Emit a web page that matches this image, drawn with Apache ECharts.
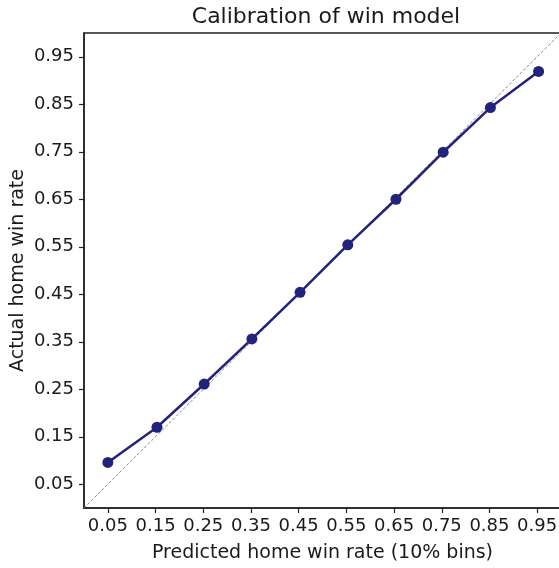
<!DOCTYPE html>
<html><head><meta charset="utf-8">
<script src="https://cdn.jsdelivr.net/npm/echarts@6/dist/echarts.min.js"></script>
<style>html,body{margin:0;padding:0;background:#fff}#c{width:559px;height:568px}</style>
</head><body><div id="c"></div>
<script>
const predicted = [0.05, 0.153, 0.252, 0.352, 0.453, 0.553, 0.654, 0.753, 0.852, 0.953];
const actual = [0.096, 0.170, 0.261, 0.356, 0.454, 0.554, 0.650, 0.749, 0.843, 0.919];
const tickValues = [0.05, 0.15, 0.25, 0.35, 0.45, 0.55, 0.65, 0.75, 0.85, 0.95];
const diagonal = [[0, 0], [1, 1]];

const font = 'DejaVu Sans';
const chart = echarts.init(document.getElementById('c'), null, {renderer: 'canvas'});
const axisCommon = {
  type: 'value', min: 0, max: 1,
  splitLine: {show: false},
  axisLine: {show: true, onZero: false, lineStyle: {color: '#222', width: 1.5}},
  axisTick: {show: true, customValues: tickValues, length: 5, inside: false, lineStyle: {color: '#222', width: 1.2}},
  axisLabel: {customValues: tickValues, formatter: v => v.toFixed(2), color: '#1a1a1a', fontFamily: font, fontSize: 18},
  nameLocation: 'middle',
  nameMoveOverlap: false,
  nameTextStyle: {fontFamily: font, fontSize: 19, color: '#1a1a1a'}
};
chart.setOption({
  animation: false,
  title: {text: 'Calibration of win model', left: 321, textAlign: 'center', top: 1,
    textStyle: {fontFamily: font, fontSize: 22, fontWeight: 'normal', color: '#1a1a1a'}},
  grid: {left: 84, top: 33, width: 477, height: 475, outerBoundsMode: 'none', containLabel: false,
    show: true, borderColor: '#222', borderWidth: 1.5, backgroundColor: 'transparent'},
  xAxis: Object.assign({}, axisCommon, {name: 'Predicted home win rate (10% bins)', nameGap: 36,
    axisLabel: Object.assign({}, axisCommon.axisLabel, {margin: 9})}),
  yAxis: Object.assign({}, axisCommon, {name: 'Actual home win rate', nameGap: 56,
    axisLabel: Object.assign({}, axisCommon.axisLabel, {margin: 10})}),
  series: [
    {type: 'line', data: diagonal, symbol: 'none', silent: true,
      lineStyle: {color: '#888', width: 1, type: [3, 2]}},
    {type: 'line', data: predicted.map((x, i) => [x, actual[i]]), symbol: 'circle', symbolSize: 11,
      lineStyle: {color: '#23237d', width: 2.5}, itemStyle: {color: '#23237d'}}
  ]
});
</script></body></html>
